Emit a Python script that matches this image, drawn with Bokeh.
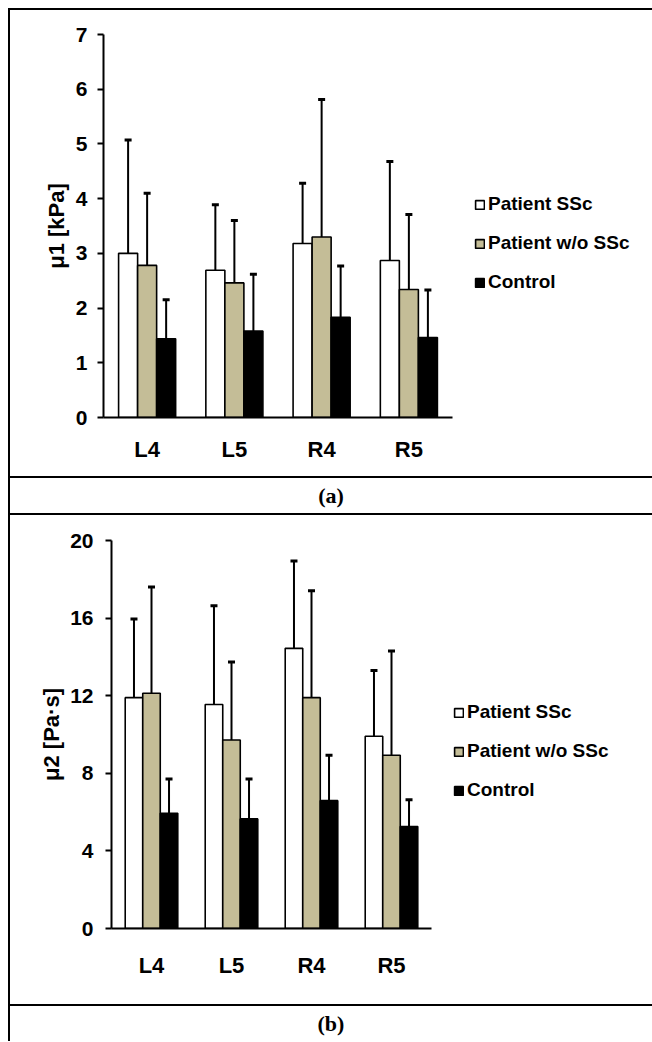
from bokeh.plotting import figure
from bokeh.models import (ColumnDataSource, FactorRange, Range1d, FixedTicker, Legend,
                          LegendItem, Div)
from bokeh.layouts import column, row
from bokeh.transform import dodge
from bokeh.embed import file_html
from bokeh.resources import INLINE

# ---------------- data ----------------
levels = ["L4", "L5", "R4", "R5"]
series = ["Patient SSc", "Patient w/o SSc", "Control"]

mu1_ssc = [3.00, 2.69, 3.18, 2.87]
mu1_wo = [2.78, 2.46, 3.30, 2.34]
mu1_ctrl = [1.44, 1.58, 1.83, 1.46]
mu1_ssc_sd = [2.07, 1.20, 1.10, 1.81]
mu1_wo_sd = [1.32, 1.14, 2.51, 1.37]
mu1_ctrl_sd = [0.71, 1.04, 0.94, 0.87]
mu1_ticks = [0, 1, 2, 3, 4, 5, 6, 7]

mu2_ssc = [11.90, 11.55, 14.44, 9.91]
mu2_wo = [12.13, 9.72, 11.90, 8.93]
mu2_ctrl = [5.94, 5.65, 6.59, 5.26]
mu2_ssc_sd = [4.05, 5.09, 4.50, 3.39]
mu2_wo_sd = [5.47, 4.02, 5.51, 5.37]
mu2_ctrl_sd = [1.76, 2.05, 2.34, 1.38]
mu2_ticks = [0, 4, 8, 12, 16, 20]

FONT = "Liberation Sans"
COLORS = ["white", "#C4BD97", "black"]


def make_chart(means, sds, ymax, ticks, ylabel, fw, fh, left, right, top, bottom,
               tick_standoff, label_standoff, x_standoff, leg_margin, leg_drop, bar_w):
    p = figure(x_range=FactorRange(*levels), y_range=Range1d(0, ymax),
               frame_width=fw, frame_height=fh, min_border_left=left,
               min_border_right=right, min_border_top=top, min_border_bottom=bottom,
               margin=0, output_backend="svg", toolbar_location=None)
    p.outline_line_color = None
    p.xgrid.grid_line_color = None
    p.ygrid.grid_line_color = None
    p.background_fill_color = "white"
    p.border_fill_color = "white"

    offsets = [-bar_w, 0.0, bar_w]
    items = []
    for i, name in enumerate(series):
        src = ColumnDataSource(dict(x=levels, top=means[i],
                                    err=[m + s for m, s in zip(means[i], sds[i])]))
        r = p.vbar(x=dodge("x", offsets[i], range=p.x_range), top="top", bottom=0,
                   width=bar_w, source=src, fill_color=COLORS[i],
                   line_color="black", line_width=1.6)
        p.segment(x0=dodge("x", offsets[i], range=p.x_range), y0="top",
                  x1=dodge("x", offsets[i], range=p.x_range), y1="err",
                  source=src, line_color="black", line_width=2)
        p.scatter(x=dodge("x", offsets[i], range=p.x_range), y="err", source=src,
                  marker="dash", size=7, line_color="black", line_width=3)
        items.append(LegendItem(label=name, renderers=[r]))

    legend = Legend(items=items, location="top_left", orientation="vertical")
    legend.border_line_color = None
    legend.background_fill_alpha = 0
    legend.padding = 0
    legend.margin = leg_margin
    legend.title = " "
    legend.title_text_font_size = "1px"
    legend.title_standoff = leg_drop
    legend.glyph_width = 11
    legend.glyph_height = 11
    legend.label_standoff = 3
    legend.label_height = 22
    legend.spacing = 17
    legend.label_text_font = FONT
    legend.label_text_font_style = "bold"
    legend.label_text_font_size = "19px"
    legend.label_text_color = "black"
    p.add_layout(legend, "right")

    p.yaxis.ticker = FixedTicker(ticks=ticks)
    p.yaxis.axis_label = ylabel
    p.yaxis.axis_label_text_font = FONT
    p.yaxis.axis_label_text_font_style = "bold"
    p.yaxis.axis_label_text_font_size = "22px"
    p.yaxis.axis_label_text_color = "black"
    p.yaxis.axis_label_standoff = label_standoff
    p.yaxis.major_label_standoff = tick_standoff

    for ax in (p.xaxis, p.yaxis):
        ax.axis_line_color = "black"
        ax.axis_line_width = 2
        ax.major_label_text_font = FONT
        ax.major_label_text_font_style = "bold"
        ax.major_label_text_font_size = "21px"
        ax.major_label_text_color = "black"
        ax.minor_tick_line_color = None
        ax.major_tick_line_color = "black"
        ax.major_tick_line_width = 2
        ax.major_tick_in = 0
        ax.major_tick_out = 6
    p.xaxis.major_label_text_font_size = "22px"
    p.xaxis.major_tick_line_color = None
    p.xaxis.major_tick_out = 0
    p.xaxis.major_label_standoff = x_standoff
    return p


pa = make_chart([mu1_ssc, mu1_wo, mu1_ctrl], [mu1_ssc_sd, mu1_wo_sd, mu1_ctrl_sd],
                7, mu1_ticks, "μ1 [kPa]", 349, 383, 93, 200, 24, 59, 10, 4, 19,
                22, 136, 0.218)
pb = make_chart([mu2_ssc, mu2_wo, mu2_ctrl], [mu2_ssc_sd, mu2_wo_sd, mu2_ctrl_sd],
                20, mu2_ticks, "μ2 [Pa·s]", 320, 388, 93, 213, 25, 76, 12, 3, 24,
                22, 138, 0.219)

PLAIN = {"padding": "0", "margin": "0"}


def block(w, h, color=None):
    st = dict(PLAIN)
    if color:
        st["background-color"] = color
    return Div(text="", width=w, height=h, margin=0, styles=st)


def caption(txt, h):
    html = ('<div style="width:642px;text-align:center;font-family:\'Liberation Serif\';'
            'font-weight:bold;font-size:22px;line-height:%dpx;color:black;margin:0;'
            'padding:0">%s</div>' % (h, txt))
    return Div(text=html, width=642, height=h, margin=0, styles=dict(PLAIN))


inner = column(pa, block(642, 2, "black"), caption("(a)", 35), block(642, 2, "black"),
               row(block(8, 489), pb, spacing=0, margin=0),
               block(642, 2, "black"), caption("(b)", 35), spacing=0, margin=0)
body = row(block(2, 1031, "black"), inner, spacing=0, margin=0)
framed = column(block(644, 2, "black"), body, spacing=0, margin=0)
page = column(block(652, 8),
              row(block(8, 1033), framed, spacing=0, margin=0), spacing=0, margin=0)

open("out.html", "w").write(file_html(page, INLINE))
